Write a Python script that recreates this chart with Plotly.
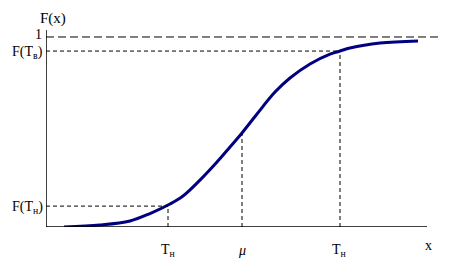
import plotly.graph_objects as go

# Curve data (x in arbitrary units, F in probability)
curve_x = [0.45, 1.35, 2.1, 2.6, 3.1, 3.425, 3.85, 4.275, 4.6, 4.9, 5.275, 5.725, 6.1, 6.6, 7.1, 7.35, 7.6, 8.35, 9.3]
curve_F = [0.0, 0.0105, 0.032, 0.071, 0.121, 0.163, 0.247, 0.342, 0.421, 0.495, 0.595, 0.710, 0.784, 0.858, 0.910, 0.926, 0.942, 0.968, 0.979]

# Reference points
x_TH = 3.05
x_mu = 4.9
x_TB = 7.35
F_TH = 0.11
F_mu = 0.49
F_TB = 0.926
F_one = 1.0
x_axis_end = 9.525
x_top_end = 9.8
y_axis_top = 1.0368
x_max = 9.8

tick_labels_x = ["T<sub>н</sub>", "<i>μ</i>", "T<sub>н</sub>"]
tick_x = [x_TH, x_mu, x_TB]

FONT = "Liberation Serif"
fig = go.Figure()
fig.add_trace(go.Scatter(x=curve_x, y=curve_F, mode="lines",
                         line=dict(color="#000080", width=3, shape="spline", smoothing=1.0),
                         hoverinfo="skip", showlegend=False))

def px(v):
    return v / x_max

def py(v):
    return v / y_axis_top

dash_s = dict(color="black", width=1, dash="4px,3px")
shapes = []
shapes.append(dict(type="line", xref="x", yref="y", x0=0, y0=0, x1=0, y1=y_axis_top, line=dict(color="black", width=1.5)))
shapes.append(dict(type="line", xref="x", yref="y", x0=0, y0=0, x1=x_axis_end, y1=0, line=dict(color="black", width=1.5)))
shapes.append(dict(type="line", xref="x", yref="y", x0=0, y0=F_one, x1=x_top_end, y1=F_one, line=dict(color="black", width=1, dash="8px,4px")))
shapes.append(dict(type="line", xref="x", yref="y", x0=0, y0=F_TB, x1=x_TB, y1=F_TB, line=dash_s))
shapes.append(dict(type="line", xref="x", yref="y", x0=0, y0=F_TH, x1=x_TH, y1=F_TH, line=dash_s))
shapes.append(dict(type="line", xref="x", yref="y", x0=x_TH, y0=0, x1=x_TH, y1=F_TH, line=dash_s))
shapes.append(dict(type="line", xref="x", yref="y", x0=x_mu, y0=0, x1=x_mu, y1=F_mu, line=dash_s))
shapes.append(dict(type="line", xref="x", yref="y", x0=x_TB, y0=0, x1=x_TB, y1=F_TB, line=dash_s))

ann = []
f = dict(family=FONT, size=14, color="black")
common = dict(xref="paper", yref="paper", showarrow=False, yanchor="middle")
ann.append(dict(x=px(0.175), y=py(1.095), text="F(x)", xanchor="center", font=dict(family=FONT, size=15, color="black"), **common))
ann.append(dict(x=0, y=py(F_one), text="1", xanchor="right", xshift=-2, yshift=2, font=f, **common))
ann.append(dict(x=0, y=py(F_TB), text="F(T<sub>в</sub>)", xanchor="right", xshift=-1, yshift=-1, font=f, **common))
ann.append(dict(x=0, y=py(F_TH), text="F(T<sub>н</sub>)", xanchor="right", xshift=-1, yshift=-1, font=f, **common))
for tx, tl in zip(tick_x, tick_labels_x):
    ann.append(dict(x=px(tx), y=py(-0.126), text=tl, xanchor="center", font=f, **common))
ann.append(dict(x=px(9.55), y=py(-0.095), text="x", xanchor="center", font=f, **common))

fig.update_layout(
    width=462, height=277,
    margin=dict(l=46, r=24, t=30, b=50),
    paper_bgcolor="white", plot_bgcolor="white",
    xaxis=dict(range=[0, x_max], visible=False, fixedrange=True),
    yaxis=dict(range=[0, y_axis_top], visible=False, fixedrange=True),
    shapes=shapes, annotations=ann, showlegend=False,
)
fig.write_html("out.html")
